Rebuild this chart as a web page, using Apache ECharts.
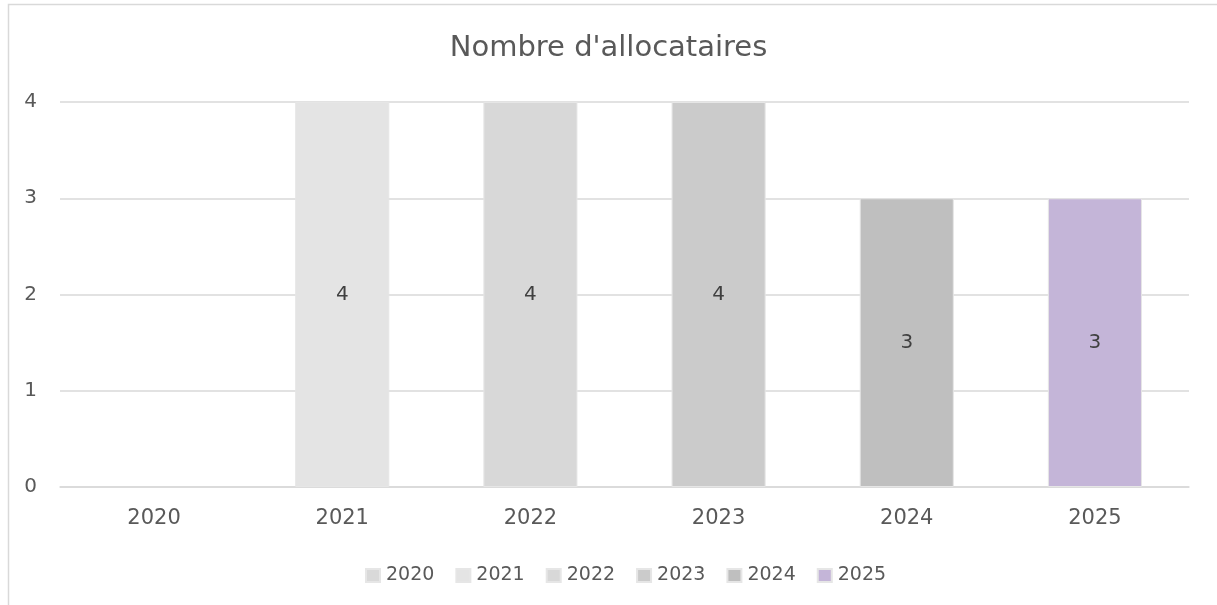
<!DOCTYPE html>
<html>
<head>
<meta charset="utf-8">
<script src="https://cdn.jsdelivr.net/npm/echarts@6/dist/echarts.min.js"></script>
<style>
html,body{margin:0;padding:0;background:#fff;}
#chart{width:1217px;height:605px;}
</style>
</head>
<body>
<div id="chart"></div>
<script>
const categories = ['2020', '2021', '2022', '2023', '2024', '2025'];
const seriesNames = ['2020', '2021', '2022', '2023', '2024', '2025'];
const values2020 = [null, null, null, null, null, null];
const values2021 = [null, 4, null, null, null, null];
const values2022 = [null, null, 4, null, null, null];
const values2023 = [null, null, null, 4, null, null];
const values2024 = [null, null, null, null, 3, null];
const values2025 = [null, null, null, null, null, 3];
const seriesValues = [values2020, values2021, values2022, values2023, values2024, values2025];
const colors = ['#d9d9d9', '#e4e4e4', '#d8d8d8', '#cbcbcb', '#bfbfbf', '#c4b5d8'];
const yTicks = [0, 1, 2, 3, 4];

const FONT = 'DejaVu Sans';
const chart = echarts.init(document.getElementById('chart'), null, {renderer: 'canvas'});
chart.setOption({
  animation: false,
  color: colors,
  graphic: [{
    type: 'polyline',
    shape: {points: [[8.5, 620], [8.5, 4.5], [1230, 4.5]]},
    style: {stroke: '#d9d9d9', lineWidth: 1.5, fill: null},
    silent: true
  }],
  title: {
    text: "Nombre d'allocataires",
    left: 'center',
    top: 34,
    padding: [0, 0, 0, 10],
    textStyle: {fontFamily: FONT, fontSize: 29, fontWeight: 'normal', color: '#595959'}
  },
  legend: {
    data: seriesNames,
    top: 561,
    left: 360,
    itemWidth: 14,
    itemHeight: 13,
    itemGap: 21,
    icon: 'rect',
    textStyle: {fontFamily: FONT, fontSize: 19, color: '#595959', padding: [0, 0, 0, 1]}
  },
  grid: {left: 60, right: 28, top: 102, bottom: 118, containLabel: false},
  xAxis: {
    type: 'category',
    data: categories,
    axisLine: {lineStyle: {color: '#d9d9d9', width: 1.5}},
    axisTick: {show: false},
    axisLabel: {fontFamily: FONT, fontSize: 21, color: '#595959', margin: 21}
  },
  yAxis: {
    type: 'value',
    min: yTicks[0],
    max: yTicks[yTicks.length - 1],
    interval: 1,
    axisLine: {show: false},
    axisTick: {show: false},
    splitLine: {lineStyle: {color: '#d9d9d9', width: 1.5}},
    axisLabel: {fontFamily: FONT, fontSize: 20, color: '#595959', margin: 23}
  },
  series: seriesNames.map((name, i) => ({
    name: name,
    type: 'bar',
    stack: 'total',
    barWidth: '50%',
    data: seriesValues[i],
    itemStyle: {color: colors[i], borderColor: '#e6e6e6', borderWidth: 1},
    label: {
      show: true,
      position: 'inside',
      fontFamily: FONT,
      fontSize: 20,
      color: '#404040'
    }
  }))
});
</script>
</body>
</html>
